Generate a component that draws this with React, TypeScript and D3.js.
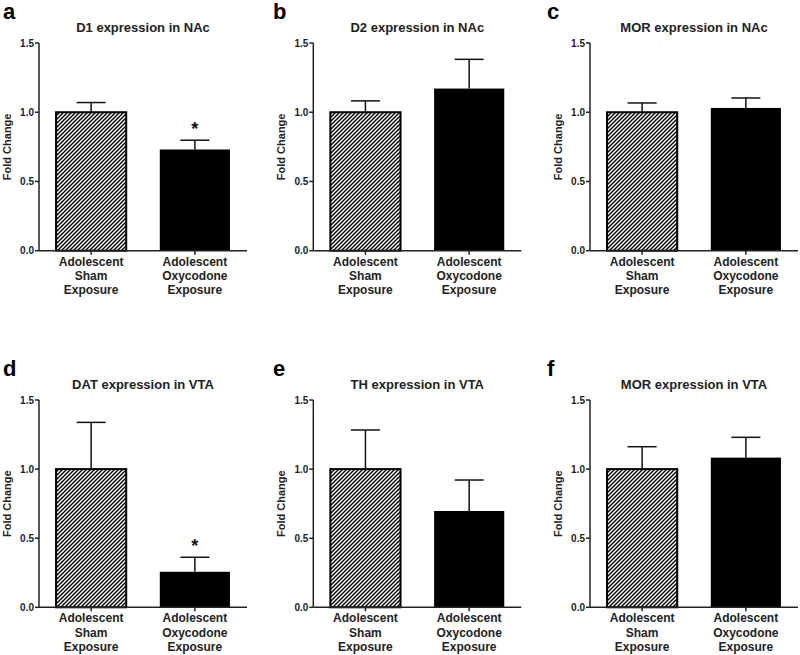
import React from "react";
import * as d3 from "d3";

const panelLetters = ["a", "b", "c", "d", "e", "f"];
const titles = [
  "D1 expression in NAc",
  "D2 expression in NAc",
  "MOR expression in NAc",
  "DAT expression in VTA",
  "TH expression in VTA",
  "MOR expression in VTA",
];
const categories = ["Sham", "Oxycodone"];
const categoryLines = [
  ["Adolescent", "Sham", "Exposure"],
  ["Adolescent", "Oxycodone", "Exposure"],
];
const shamMeans = [1.0, 1.0, 1.0, 1.0, 1.0, 1.0];
const shamSem = [0.07, 0.082, 0.067, 0.338, 0.283, 0.162];
const oxyMeans = [0.731, 1.171, 1.031, 0.257, 0.697, 1.083];
const oxySem = [0.067, 0.211, 0.072, 0.105, 0.224, 0.147];
const significant = [true, false, false, true, false, false];
const yTicks = [0, 0.5, 1.0, 1.5];
const yTickLabels = ["0.0", "0.5", "1.0", "1.5"];
const yLabel = "Fold Change";

const FONT = "'Liberation Sans', Arial, Helvetica, sans-serif";
const colAxisX = [39, 313.3, 590];
const colLetterX = [3, 273, 547];
const rowTop = [43, 400];
const rowBottom = [250.7, 607.3];
const rowLetterY = [19, 376];
const axisLen = 208;

function Panel({ i }: { i: number }) {
  const col = i % 3;
  const row = Math.floor(i / 3);
  const x0 = colAxisX[col];
  const yTop = rowTop[row];
  const yBot = rowBottom[row];
  const y = d3.scaleLinear().domain([0, 1.5]).range([yBot, yTop]);
  const x = d3
    .scaleBand<string>()
    .domain(categories)
    .range([x0, x0 + axisLen])
    .paddingInner(0.3237)
    .paddingOuter(0.1643);
  const bw = x.bandwidth();
  const means = [shamMeans[i], oxyMeans[i]];
  const sems = [shamSem[i], oxySem[i]];
  const capW = 29;
  return (
    <g>
      <text
        x={colLetterX[col]}
        y={rowLetterY[row]}
        fontFamily={FONT}
        fontWeight="bold"
        fontSize={22}
        fill="#000"
      >
        {panelLetters[i]}
      </text>
      <text
        x={x0 + axisLen / 2}
        y={yTop - 11}
        textAnchor="middle"
        fontFamily={FONT}
        fontWeight="bold"
        fontSize={13}
        fill="#222"
      >
        {titles[i]}
      </text>
      {categories.map((c, k) => {
        const bx = x(c)!;
        const top = y(means[k]);
        const cx = bx + bw / 2;
        const errTop = y(means[k] + sems[k]);
        return (
          <g key={c}>
            <line x1={cx} x2={cx} y1={top} y2={errTop} stroke="#111" strokeWidth={1.5} />
            <line
              x1={cx - capW / 2}
              x2={cx + capW / 2}
              y1={errTop}
              y2={errTop}
              stroke="#111"
              strokeWidth={1.5}
            />
            {k === 0 ? (
              <rect
                x={bx}
                y={top}
                width={bw}
                height={yBot - top}
                fill="url(#hatch)"
                stroke="#000"
                strokeWidth={2}
              />
            ) : (
              <rect x={bx} y={top} width={bw} height={yBot - top} fill="#000" />
            )}
            {k === 1 && significant[i] ? (
              <text
                x={cx}
                y={errTop - 5}
                textAnchor="middle"
                fontFamily={FONT}
                fontWeight="bold"
                fontSize={18}
                fill="#111"
              >
                *
              </text>
            ) : null}
          </g>
        );
      })}
      <line x1={x0} x2={x0} y1={yTop} y2={yBot} stroke="#222" strokeWidth={1.5} />
      {yTicks.map((t, k) => (
        <g key={t}>
          <line x1={x0 - 4} x2={x0} y1={y(t)} y2={y(t)} stroke="#222" strokeWidth={1.5} />
          <text
            x={x0 - 5}
            y={y(t)}
            dy="0.35em"
            textAnchor="end"
            fontFamily={FONT}
            fontWeight="bold"
            fontSize={10}
            fill="#222"
          >
            {yTickLabels[k]}
          </text>
        </g>
      ))}
      <text
        transform={`translate(${x0 - 32},${(yTop + yBot) / 2}) rotate(-90)`}
        textAnchor="middle"
        dy="0.35em"
        fontFamily={FONT}
        fontWeight="bold"
        fontSize={11}
        fill="#222"
      >
        {yLabel}
      </text>
      <line x1={x0} x2={x0 + axisLen} y1={yBot} y2={yBot} stroke="#222" strokeWidth={1.5} />
      {categories.map((c, k) => {
        const cx = x(c)! + bw / 2;
        return (
          <g key={c}>
            <line x1={cx} x2={cx} y1={yBot} y2={yBot + 4} stroke="#222" strokeWidth={1.5} />
            {categoryLines[k].map((ln, j) => (
              <text
                key={j}
                x={cx}
                y={yBot + 15 + j * 14.3}
                textAnchor="middle"
                fontFamily={FONT}
                fontWeight="bold"
                fontSize={12}
                fill="#222"
              >
                {ln}
              </text>
            ))}
          </g>
        );
      })}
    </g>
  );
}

export default function App() {
  return (
    <svg
      width={800}
      height={655}
      style={{ position: "absolute", left: 0, top: 0, background: "#fff" }}
    >
      <defs>
        <pattern id="hatch" patternUnits="userSpaceOnUse" width={4} height={4}>
          <rect width={4} height={4} fill="#fff" />
          <path d="M-1,1 L1,-1 M0,4 L4,0 M3,5 L5,3" stroke="#000" strokeWidth={1.4} />
        </pattern>
      </defs>
      <rect width={800} height={655} fill="#fff" />
      {panelLetters.map((_, i) => (
        <Panel key={i} i={i} />
      ))}
    </svg>
  );
}
